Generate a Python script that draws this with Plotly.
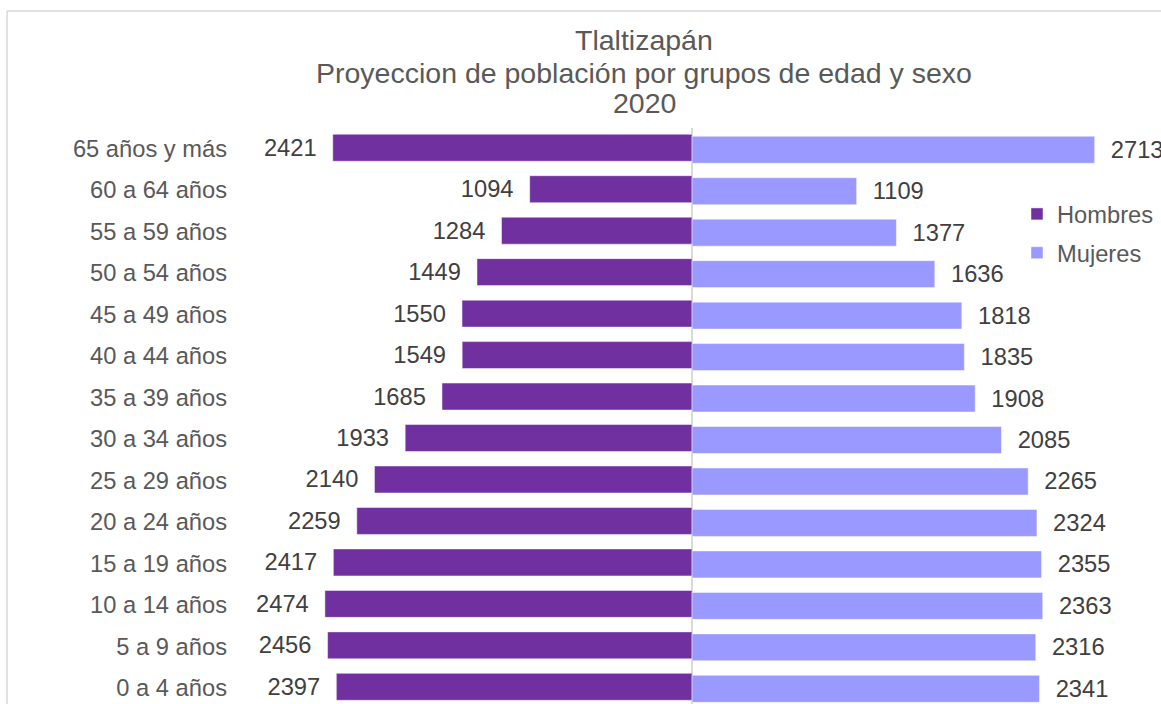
import plotly.graph_objects as go

categories = ["0 a 4 años", "5 a 9 años", "10 a 14 años", "15 a 19 años", "20 a 24 años",
              "25 a 29 años", "30 a 34 años", "35 a 39 años", "40 a 44 años", "45 a 49 años",
              "50 a 54 años", "55 a 59 años", "60 a 64 años", "65 años y más"]
hombres = [2397, 2456, 2474, 2417, 2259, 2140, 1933, 1685, 1549, 1550, 1449, 1284, 1094, 2421]
mujeres = [2341, 2316, 2363, 2355, 2324, 2265, 2085, 1908, 1835, 1818, 1636, 1377, 1109, 2713]
title_lines = ["Tlaltizapán", "Proyeccion de población por grupos de edad y sexo", "2020"]

W, H = 1161, 704
L, R, T, B = 232, 0, 128, 0
PW, PH = W - L - R, H - T - B

FONT = "Arial, Liberation Sans, sans-serif"
NB = "\u00a0"
FS = 23.7

fig = go.Figure()
fig.add_trace(go.Bar(
    y=categories, x=[-v for v in hombres], orientation="h", name="Hombres",
    legendgroup="h",
    marker=dict(color="#7030A0", line=dict(color="rgba(255,255,255,0.6)", width=0.8)),
    width=0.65, offset=-0.301,
    text=[f"{v}{NB*2}" for v in hombres], textposition="outside",
    constraintext="none", cliponaxis=False,
    textfont=dict(family=FONT, size=FS, color="#404040"),
    hoverinfo="skip",
))
fig.add_trace(go.Bar(
    y=categories, x=mujeres, orientation="h", name="Mujeres",
    legendgroup="m",
    marker=dict(color="#9999FF", line=dict(color="rgba(255,255,255,0.6)", width=0.8)),
    width=0.65, offset=-0.349,
    text=[f"{NB*2}{v}" for v in mujeres], textposition="outside",
    constraintext="none", cliponaxis=False,
    textfont=dict(family=FONT, size=FS, color="#404040"),
    hoverinfo="skip",
))

# title lines
title_y = [40, 73, 103]
for txt, yp in zip(title_lines, title_y):
    fig.add_annotation(
        text=txt, xref="paper", yref="paper",
        x=(644 - L) / PW, y=1 + (T - yp) / PH,
        xanchor="center", yanchor="middle", showarrow=False,
        font=dict(family=FONT, size=28.5, color="#595959"),
    )

# chart border (top and left edges visible in the crop)
bx = (7 - L) / PW
by = 1 + (T - 11) / PH
fig.add_shape(type="line", xref="paper", yref="paper", x0=bx, x1=1.2, y0=by, y1=by,
              line=dict(color="#D9D9D9", width=1.5))
fig.add_shape(type="line", xref="paper", yref="paper", x0=bx, x1=bx, y0=by, y1=-0.2,
              line=dict(color="#D9D9D9", width=1.5))

fig.update_layout(
    width=W, height=H,
    margin=dict(l=L, r=R, t=T, b=B),
    barmode="overlay",
    plot_bgcolor="white", paper_bgcolor="white",
    font=dict(family=FONT, size=FS, color="#595959"),
    showlegend=True,
    legend=dict(
        x=(1017 - L) / PW, y=1 + (T - 192) / PH, xanchor="left", yanchor="top",
        font=dict(family=FONT, size=FS, color="#595959"),
        bgcolor="rgba(0,0,0,0)", traceorder="grouped", tracegroupgap=5,
    ),
    xaxis=dict(range=[-3100, 3160], showticklabels=False, showgrid=False,
               zeroline=True, zerolinecolor="#D9D9D9", zerolinewidth=1.5,
               showline=False, ticks="", fixedrange=True),
    yaxis=dict(type="category", categoryorder="array", categoryarray=categories,
               range=[-0.39, 13.5], showgrid=False, zeroline=False, showline=False,
               ticks="", ticklabelstandoff=4,
               tickfont=dict(family=FONT, size=FS, color="#595959"), fixedrange=True),
)

fig.write_html(
    "out.html",
    config={"displayModeBar": False, "staticPlot": True},
    post_script="document.body.style.margin='0px';document.body.style.overflow='hidden';",
)
